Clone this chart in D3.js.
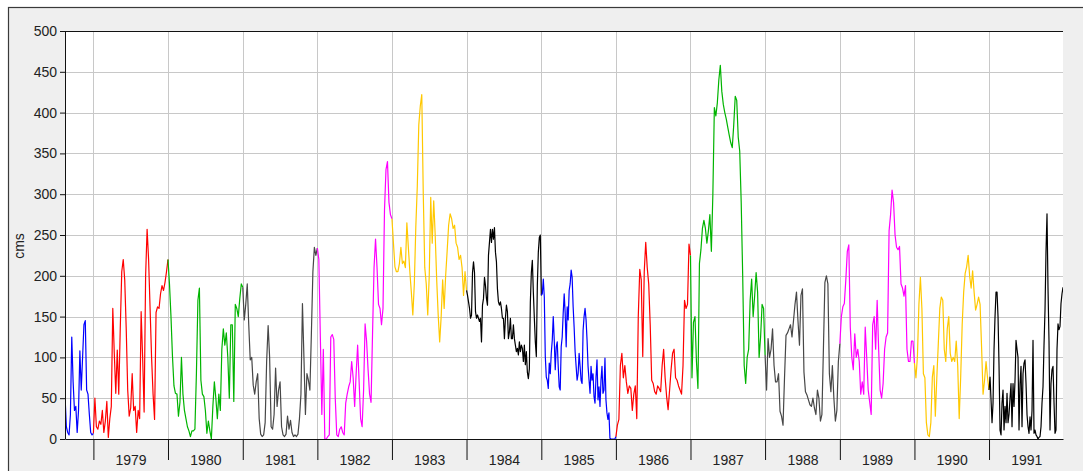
<!DOCTYPE html>
<html>
<head>
<meta charset="utf-8">
<script src="https://cdn.jsdelivr.net/npm/d3@7"></script>
<style>
  html, body { margin: 0; padding: 0; background: #ffffff; }
  svg { display: block; }
</style>
</head>
<body>
<script>
// Streamflow (cms), evenly spaced values, one array per calendar year.
// The 1978 record begins in mid-August.
const flow1978 = [54,15,8,5,30,125,70,35,40,8,35,108,60,100,140,145,60,55,30,8,5];
const flow1979 = [7,50,15,12,22,18,35,8,22,46, 2,25,40,160,105,56,109,55,135,205, 220,195,135,60,28,38,80,35,40,8, 35,25,156,100,33,200,257,220,160,100, 55,24,155,162,160,178,188,182,192,205];
const flow1980 = [220,190,150,101,65,56,55,28,45,100, 55,35,25,15,10,3,10,10,12,80, 170,185,72,55,52,35,7,22,10,0, 40,70,50,25,55,35,110,135,115,130, 100,50,140,140,46,165,160,150,172,190];
const flow1981 = [186,146,165,190,140,97,100,66,55,70, 80,25,6,3,5,20,95,139,100,15, 12,30,87,40,60,70,15,5,3,6, 28,12,23,8,3,5,3,6,25,55, 166,100,30,80,72,60,130,205,235,225];
const flow1982 = [234,220,125,30,110,0,0,3,5,125, 128,122,50,5,3,12,15,8,5,44, 55,64,70,95,75,40,80,115,70,25, 15,60,141,120,85,55,45,130,210,245, 210,165,160,140,160,280,330,340,290,275];
const flow1983 = [270,240,211,205,205,215,235,215,218,210, 265,235,205,180,152,190,260,310,385,408, 422,300,210,190,152,200,296,240,292,250, 195,152,119,150,195,160,200,230,262,276, 270,258,262,240,235,220,225,210,176,205];
const flow1984 = [182,176,168,160,148,152,204,217,204,156, 148,152,148,144,148,119,164,172,198,188, 172,164,225,241,257,241,257,245,259,229, 217,184,168,164,168,160,148,148,123,148, 164,156,123,131,148,123,123,140,123,115, 107,111,103,119,107,115,111,95,115,91, 107,82,74,86,168,204,219,180,148,119, 101,188,229,247,250];
const flow1985 = [176,178,196,174,101,76,72,62,93,80, 105,121,150,121,85,113,119,89,64,60, 113,125,154,178,154,113,162,146,182,190, 207,198,162,137,107,89,72,80,105,89, 72,68,133,150,160,146,121,89,72,56, 89,72,80,52,44,76,97,48,64,40, 72,89,56,60,99,48,32,24,32,1, 0,0,0,0,0];
const flow1986 = [3,17,24,90,105,75,90,70,56,65, 62,35,55,65,25,150,208,195,101,205, 241,210,190,140,72,68,58,55,65,62, 58,90,110,75,52,36,60,85,105,110, 75,72,65,60,55,90,170,160,165,239];
const flow1987 = [225,75,143,150,95,62,215,232,258,268, 258,240,255,275,230,300,406,396,412,440, 458,426,410,400,392,382,372,363,357,385, 420,415,370,353,290,200,90,68,100,110, 170,196,150,175,204,180,100,125,165,160];
const flow1988 = [103,60,123,100,110,135,90,70,70,80, 34,28,17,75,127,130,135,140,125,145, 165,180,145,115,176,184,82,58,54,48, 42,40,50,38,30,60,50,22,30,110, 192,200,190,80,58,90,50,22,35,95];
const flow1989 = [117,150,162,166,195,230,238,137,100,85, 129,100,110,95,55,70,55,137,100,60, 45,30,140,150,110,170,110,60,50,68, 110,125,130,255,275,305,290,250,235,232, 236,190,185,175,188,110,95,95,120,120];
const flow1990 = [93,75,101,165,198,160,80,75,20,5, 3,20,76,90,28,75,117,160,174,170, 110,95,135,150,105,95,100,95,120,90, 25,76,140,180,203,211,225,200,185,206, 180,158,165,174,165,113,55,72,95,75];
const flow1991 = [60,76,48,20,44,110,150,180,180,150, 90,11,5,44,60,11,40,20,56,20, 30,50,68,15,68,40,72,121,110,100, 11,68,89,15,80,93,97,68,30,15, 7,27,11,35,121,7,11,5,3,0, 2,3,15,44,64,115,158,230,276,185, 120,11,68,85,89,45,7,11,110,141, 134,138,166,178,186];

const recordYears = [1978,1979,1980,1981,1982,1983,1984,1985,1986,1987,1988,1989,1990,1991];
const axisYears = [1979,1980,1981,1982,1983,1984,1985,1986,1987,1988,1989,1990,1991];
const yTicks = [0,50,100,150,200,250,300,350,400,450,500];

const flows = [flow1978, flow1979, flow1980, flow1981, flow1982, flow1983, flow1984,
               flow1985, flow1986, flow1987, flow1988, flow1989, flow1990, flow1991];

// Seven-colour cycle, one colour per calendar year
const palette = ["#0000ff", "#ff0000", "#00b400", "#474747", "#ff00ff", "#ffc800", "#000000"];

const W = 1083, H = 471;
const plot = { left: 65, top: 31, right: 1063, bottom: 439 };
const FONT = "'Liberation Sans', Arial, Helvetica, sans-serif";

const recordStart = new Date(Date.UTC(1978, 7, 15));
const recordEnd = new Date(Date.UTC(1991, 11, 29));

const x = d3.scaleUtc().domain([recordStart, recordEnd]).range([plot.left, plot.right]);
const y = d3.scaleLinear().domain([0, 500]).range([plot.bottom, plot.top]);

// Spread each year's values evenly across that year
const points = [];
recordYears.forEach((yr, k) => {
  const vals = flows[k];
  const t0 = k === 0 ? recordStart : new Date(Date.UTC(yr, 0, 1));
  const t1 = k === recordYears.length - 1 ? recordEnd : new Date(Date.UTC(yr + 1, 0, 1));
  const n = k === recordYears.length - 1 ? vals.length - 1 : vals.length;
  vals.forEach((v, i) => {
    points.push({ year: yr, date: new Date(+t0 + (t1 - t0) * i / n), v: v });
  });
});

const svg = d3.select("body").append("svg").attr("width", W).attr("height", H);

// Chart panel with its frame
svg.append("rect")
  .attr("x", 8.5).attr("y", 7.5)
  .attr("width", W + 10).attr("height", H + 10)
  .attr("fill", "#efefef")
  .attr("stroke", "#3a3a3a").attr("stroke-width", 1.2);

// Plot area
svg.append("rect")
  .attr("x", plot.left).attr("y", plot.top)
  .attr("width", plot.right - plot.left).attr("height", plot.bottom - plot.top)
  .attr("fill", "#ffffff");

// Grid
const grid = svg.append("g").attr("stroke", "#c8c8c8").attr("stroke-width", 1.2).attr("shape-rendering", "crispEdges");
grid.selectAll("line.h").data(yTicks.filter(t => t > 0 && t < 500)).join("line")
  .attr("class", "h")
  .attr("x1", plot.left).attr("x2", plot.right)
  .attr("y1", d => Math.round(y(d)) + 0.5).attr("y2", d => Math.round(y(d)) + 0.5);
grid.selectAll("line.v").data(axisYears).join("line")
  .attr("class", "v")
  .attr("x1", d => Math.round(x(new Date(Date.UTC(d, 0, 1)))) + 0.5)
  .attr("x2", d => Math.round(x(new Date(Date.UTC(d, 0, 1)))) + 0.5)
  .attr("y1", plot.top).attr("y2", plot.bottom);

// Flow lines, one path per year, each joined to the next year's first value
const line = d3.line().x(d => x(d.date)).y(d => y(d.v));
svg.append("clipPath").attr("id", "plotClip").append("rect")
  .attr("x", plot.left).attr("y", plot.top)
  .attr("width", plot.right - plot.left).attr("height", plot.bottom - plot.top + 1);

const segs = recordYears.map((yr, k) => {
  const pts = points.filter(p => p.year === yr);
  const next = points.find(p => p.year === yr + 1);
  if (next) pts.push(next);
  return { year: yr, color: palette[k % palette.length], pts: pts };
});

svg.append("g").attr("clip-path", "url(#plotClip)")
  .selectAll("path").data(segs).join("path")
  .attr("d", d => line(d.pts))
  .attr("fill", "none")
  .attr("stroke", d => d.color)
  .attr("stroke-width", 1.2)
  .attr("stroke-linejoin", "round");

// Y axis
const gy = svg.append("g")
  .attr("transform", `translate(${plot.left},0)`)
  .call(d3.axisLeft(y).tickValues(yTicks).tickSize(5).tickSizeOuter(0).tickPadding(3));
gy.attr("font-size", 14).attr("font-family", FONT);
gy.selectAll("text").attr("fill", "#222");
gy.selectAll("line, path").attr("stroke", "#111");

// X axis: year boundaries as long ticks, year names centred in each year
const gx = svg.append("g")
  .attr("transform", `translate(0,${plot.bottom})`)
  .call(d3.axisBottom(x)
    .tickValues(axisYears.map(yr => new Date(Date.UTC(yr, 0, 1))))
    .tickSize(21).tickSizeOuter(0).tickFormat(""));
gx.selectAll("line, path").attr("stroke", "#111");

const gxl = svg.append("g")
  .attr("transform", `translate(0,${plot.bottom})`)
  .call(d3.axisBottom(x)
    .tickValues(axisYears.map(yr => new Date(Date.UTC(yr, 6, 2))))
    .tickSize(0).tickPadding(16)
    .tickFormat(d => String(d.getUTCFullYear())));
gxl.attr("font-size", 14).attr("font-family", FONT);
gxl.select("path").remove();
gxl.selectAll("text").attr("fill", "#222");

// Top edge of the plot
svg.append("line")
  .attr("x1", plot.left).attr("x2", plot.right)
  .attr("y1", plot.top + 0.5).attr("y2", plot.top + 0.5)
  .attr("stroke", "#111");

// Y axis title
svg.append("text")
  .attr("transform", "translate(24,246) rotate(-90)")
  .attr("text-anchor", "middle")
  .attr("font-size", 14).attr("font-family", FONT)
  .attr("fill", "#222")
  .text("cms");
</script>
</body>
</html>
